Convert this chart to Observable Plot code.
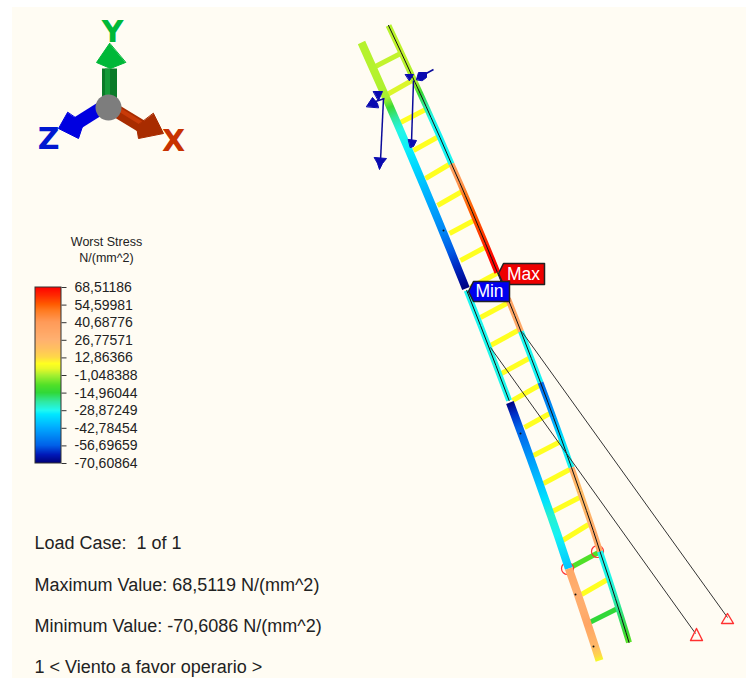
<!DOCTYPE html>
<html><head><meta charset="utf-8">
<style>html,body{margin:0;padding:0;background:#fff}svg{display:block}</style>
<script src="https://cdn.jsdelivr.net/npm/d3@7"></script>
<script src="https://cdn.jsdelivr.net/npm/@observablehq/plot@0.6"></script>
</head><body><div id="chart"></div>
<script>
// Legend
const legendLabels = ["68,51186","54,59981","40,68776","26,77571","12,86366","-1,048388","-14,96044","-28,87249","-42,78454","-56,69659","-70,60864"];
const legendValues = [68.51186,54.59981,40.68776,26.77571,12.86366,-1.048388,-14.96044,-28.87249,-42.78454,-56.69659,-70.60864];
const colorDomain = [-70.6,-64,-56.7,-42.8,-32,-28.9,-22,-15,-9,-1,4,8,13,20,27,41,50,55,62,68.5];
const colorRange = ["#000078","#0018b8","#0060e8","#00aaff","#00e8ff","#20f8f0","#30e8a0","#30d838","#50e028","#a8f030","#e8f828","#ffff20","#ffd848","#ffc060","#ffb070","#ff9a58","#ff7a20","#ff5a00","#ff2800","#ff0000"];

// Members: [x, y, stress]
const railLeftUpper = [[361,42,0],[374.4,72,0],[385.9,98,-1],[389.8,107,-13],[394.6,118,-22],[399.8,130,-28],[408.4,150,-31],[415.6,167,-35],[422.8,184,-39],[430.3,202,-43],[437.8,220,-47],[442.7,232,-50],[450.1,250,-57],[456.1,265,-62],[462.2,280,-67],[465.4,288,-70]];
const railLeftMiddle = [[466.2,290,-29],[480,325,-29],[495.4,365,-28],[508.6,400,-29]];
const railLeftLower = [[509.4,402,-70],[513.5,413,-62],[519,428,-56],[524.2,442,-52],[530,458,-46],[537.2,478,-40],[545,500,-33],[550.7,516,-26],[557.3,535,-30],[568.3,568,-38]];
const railLeftFoot = [[568.3,568,33],[576,590,28],[582.7,610,29],[587.3,624,34],[594.2,645,24],[597.4,655,14],[599,660,6]];
const railRightUpper = [[388,25,0],[400.7,52,1],[414.6,82,-1],[419.7,93,-14],[425.6,106,-22],[430.5,117,-28],[439.5,137,-30],[451,163.5,-29]];
const railRightHot = [[451,163.5,36],[459.2,182,42],[464.8,195,50],[471.6,211,55],[478.7,228,58],[485,243,62],[491.2,258,68],[496.9,272,68]];
const railRightMid = [[507.4,298,36],[514.2,315,32],[520.5,331,30]];
const railRightLower = [[520.5,331,-29],[530.9,358,-29],[540,382,-30]];
const railRightBlue = [[540,382,-55],[547.5,402,-50],[553,417,-45],[560.7,438,-33],[571,467,-29]];
const railRightWarm = [[571,467,28],[579,490,22],[585.9,510,24],[592.7,530,30],[599.5,551,32]];
const railRightFoot = [[599.5,551,-29],[608.5,578,-28],[614.9,598,-24],[621.2,618,-18],[625.5,632,-13],[628.5,642,-8]];
const railsThick = [railLeftUpper,railLeftLower,railLeftFoot];
const railsThin = [railLeftMiddle,railRightUpper,railRightHot,railRightMid,railRightLower,railRightBlue,railRightWarm,railRightFoot];

// Rungs: x1, y1, x2, y2, stress
const rungs = [[373,67,402,52,1],[385,95,415,78,3],[400,122,427,108,8],[413,150,440,135,8],[425,178,452,162,8],[437,205,465,189,8],[449,233,477,218,8],[460,260,488,245,8],[470,287,498,272,8],[480,317,508,302,8],[490,345,521,328,8],[501,373,532,356,8],[512,400,542,383,8],[524,427,551,412,8],[533,455,562,440,8],[543,483,571,468,8],[552,511,579,497,8],[562,540,588,524,8],[572,566,598,552,-9],[581,594,607,579,8],[589,622,617,608,-15]];

// Beam centre lines and cables
const blackLines = [[...railRightUpper,...railRightHot,...railRightMid],[...railRightLower,...railRightBlue,...railRightWarm,...railRightFoot],railLeftMiddle];
const cables = [[522,332,727,617],[490,347,695,633]];
const dots = [[520,433],[575,594],[593,646],[443,230]];
const supports = [[[727,613],[721,623],[733,623]],[[696,628],[690,640],[702,640]]];
const restraints = [[567,568],[597,551]];

// Load arrows
const loadLines = [[383,98,380,160],[413,80,411,142],[372,102,384,98],[422,75,433,69]];
const loadHeads = [[[374,157],[386,158],[382,163],[379,169],[377,163]],[[408,139],[416,140],[413,146],[410,147]],[[373,91],[382,91],[378,100]],[[405,74],[413,74],[409,80]],[[366,106],[372,97],[377,103],[378,107]],[[416,79],[418,72],[426,72],[426,77],[422,80]]];

// Triad
const triadShafts = [
  {c:"#0a7a28",w:15,p:[109,68,109,98]},
  {c:"#0000e0",w:13,p:[100,108,73,125]},
  {c:"#a82c00",w:13,p:[115,110,143,127]}
];
const triadHighlights = [
  {c:"#149a38",w:5,p:[107,68,107,96]},
  {c:"#c83a08",w:4,p:[117,108,143,124]}
];
const triadHeads = [
  {c:"#00b838",p:[[109,43],[96,62],[110,68],[125,62]]},
  {c:"#0000e0",p:[[67,112],[58,128],[78,138],[83,123]]},
  {c:"#a82c00",p:[[153,113],[163,133],[138,138],[136,126]]}
];
const triadLabels = [{t:"Y",x:112,y:32,c:"#00b838"},{t:"Z",x:48,y:139,c:"#0018d0"},{t:"X",x:173,y:141,c:"#c83200"}];

// Text
const infoLines = [{t:"Load Case:  1 of 1",y:543},{t:"Maximum Value: 68,5119 N/(mm^2)",y:585},{t:"Minimum Value: -70,6086 N/(mm^2)",y:626},{t:"1 < Viento a favor operario >",y:667}];
const legendTitle = [{t:"Worst Stress",y:241},{t:"N/(mm^2)",y:257}];
const maxTag = [[498,273],[503,263],[544,263],[544,284],[503,284]];
const minTag = [[468,291],[473,281],[509,281],[509,301],[473,301]];

const legendY = d3.scaleLinear([68.51186,-70.60864],[287,463]);
const legendBand = d3.range(0,176).map(i=>({y1:287+i,y2:288+i,v:legendY.invert(287.5+i)}));

const poly = (pts,fill,extra={}) => Plot.line(pts,{x:d=>d[0],y:d=>d[1],curve:"linear-closed",fill,stroke:fill,strokeWidth:1,...extra});
const seg = {x1:d=>d[0],y1:d=>d[1],x2:d=>d[2],y2:d=>d[3]};
const colorOf = d3.scaleLinear(colorDomain,colorRange);
const allRails = [...railsThick,...railsThin];
const railMark = (r,w) => Plot.line(r,{x:d=>d[0],y:d=>d[1],stroke:`url(#rail${allRails.indexOf(r)})`,strokeWidth:w,strokeLinecap:"butt"});

const chart = Plot.plot({
  width:746,height:678,margin:0,
  x:{domain:[0,746],axis:null},
  y:{domain:[678,0],axis:null},
  color:{type:"linear",domain:colorDomain,range:colorRange,interpolate:"rgb"},
  style:{background:"#fff"},
  marks:[
    Plot.rect([{}],{x1:()=>12,x2:()=>746,y1:()=>7,y2:()=>678,fill:"#fffcf3"}),
    // triad
    ...triadShafts.map(s=>Plot.link([s.p],{...seg,stroke:s.c,strokeWidth:s.w})),
    ...triadHighlights.map(s=>Plot.link([s.p],{...seg,stroke:s.c,strokeWidth:s.w})),
    ...triadHeads.map(h=>poly(h.p,h.c)),
    Plot.dot([[108,107]],{x:d=>d[0],y:d=>d[1],r:13,fill:"#7d7d7d"}),
    ...triadLabels.map(l=>Plot.text([l],{x:"x",y:"y",text:"t",fill:l.c,fontSize:30,fontWeight:"bold",fontFamily:"DejaVu Sans"})),
    // legend
    Plot.rect(legendBand,{x1:()=>35,x2:()=>61,y1:"y1",y2:"y2",fill:"v"}),
    Plot.rect([{}],{x1:()=>35,x2:()=>61,y1:()=>287,y2:()=>463,stroke:"#333",fill:"none",strokeWidth:1}),
    Plot.link(legendValues,{x1:()=>61,x2:()=>66,y1:d=>legendY(d),y2:d=>legendY(d),stroke:"#333"}),
    Plot.text(legendLabels,{x:()=>74,y:(d,i)=>legendY(legendValues[i]),text:d=>d,textAnchor:"start",fontSize:14,fontFamily:"Liberation Sans",fill:"#222"}),
    Plot.text(legendTitle,{x:()=>106,y:"y",text:"t",fontSize:12.5,fontFamily:"Liberation Sans",fill:"#222"}),
    // ladder
    Plot.link(rungs,{...seg,stroke:d=>d[4],strokeWidth:5}),
    Plot.dot(restraints,{x:d=>d[0],y:d=>d[1],r:6,stroke:"#ff3030",fill:"none",strokeWidth:1.2}),
    ...railsThick.map(r=>railMark(r,8)),
    ...railsThin.map(r=>railMark(r,6)),
    ...blackLines.map(l=>Plot.line(l,{x:d=>d[0],y:d=>d[1],stroke:"#111",strokeWidth:1})),
    Plot.link(cables,{...seg,stroke:"#333",strokeWidth:1}),
    Plot.dot(dots,{x:d=>d[0],y:d=>d[1],r:1,fill:"#111"}),
    ...supports.map(s=>Plot.line(s,{x:d=>d[0],y:d=>d[1],curve:"linear-closed",stroke:"#ff3030",strokeWidth:1.4,fill:"none"})),
    // loads
    Plot.link(loadLines,{...seg,stroke:"#0a0a9a",strokeWidth:1.5}),
    ...loadHeads.map(h=>poly(h,"#0a0ab0")),
    // tags
    poly(maxTag,"#ee0000",{stroke:"#222",strokeWidth:1.5}),
    Plot.text(["Max"],{x:()=>523,y:()=>274,text:d=>d,fill:"#fff",fontSize:17.5,fontFamily:"Liberation Sans"}),
    poly(minTag,"#0000ee",{stroke:"#222",strokeWidth:1.5}),
    Plot.text(["Min"],{x:()=>489,y:()=>291,text:d=>d,fill:"#fff",fontSize:17.5,fontFamily:"Liberation Sans"}),
    // info text
    Plot.text(infoLines,{x:()=>34,y:"y",text:"t",textAnchor:"start",fontSize:18,fontFamily:"Liberation Sans",fill:"#222"})
  ]
});
// Smooth stress gradients along each rail, coloured from the stations' stress values
const defs = d3.select(chart).insert("defs",":first-child");
allRails.forEach((r,i)=>{
  const a=r[0], b=r[r.length-1];
  const g=defs.append("linearGradient").attr("id",`rail${i}`).attr("gradientUnits","userSpaceOnUse")
    .attr("x1",a[0]).attr("y1",a[1]).attr("x2",b[0]).attr("y2",b[1]);
  r.forEach(p=>g.append("stop").attr("offset",(p[1]-a[1])/(b[1]-a[1])).attr("stop-color",colorOf(p[2])));
});
document.getElementById("chart").appendChild(chart);
</script></body></html>
